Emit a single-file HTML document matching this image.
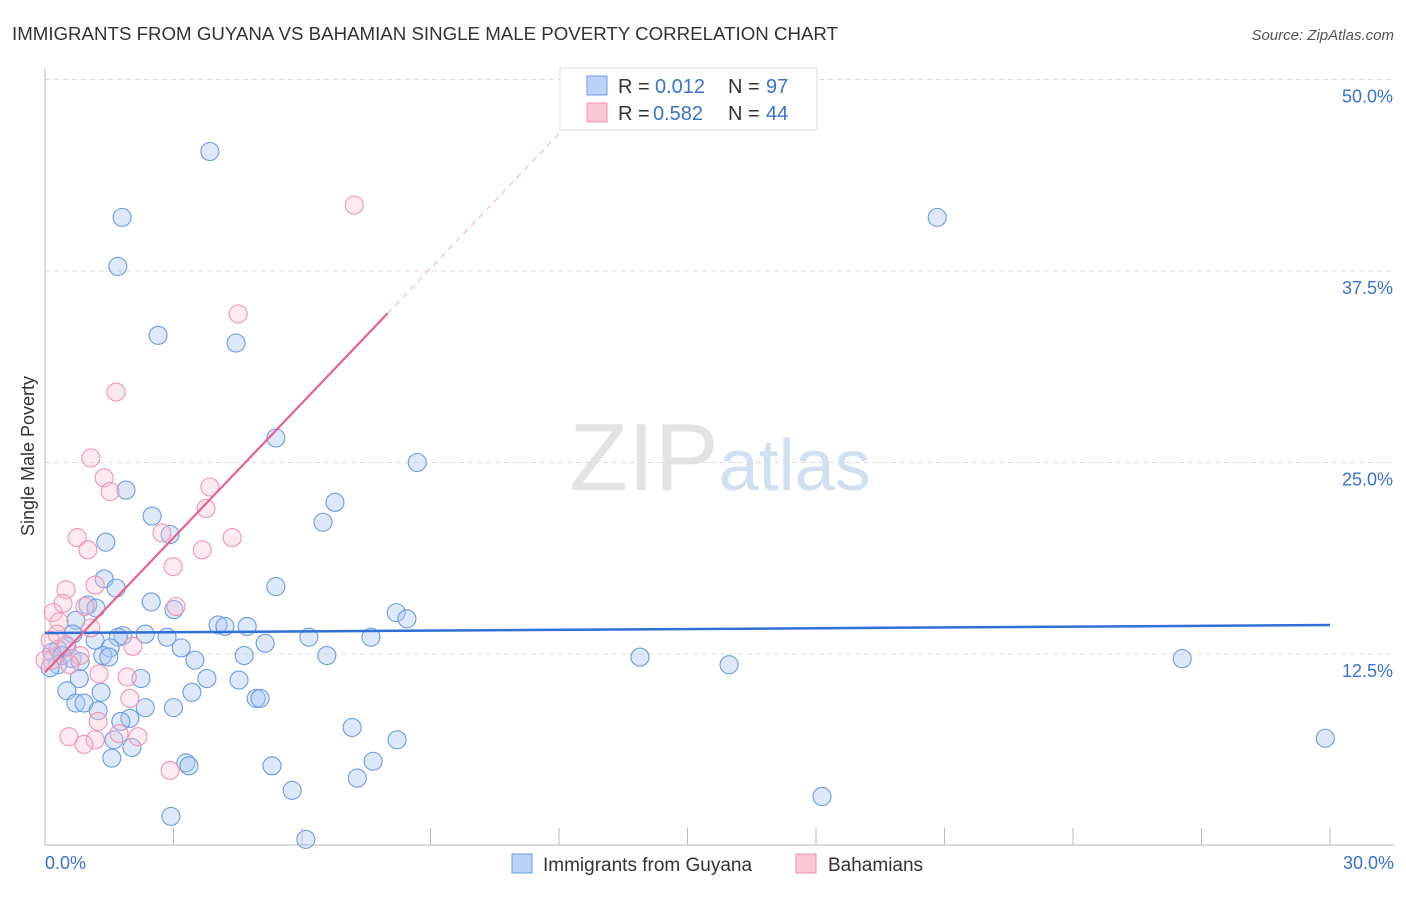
<!DOCTYPE html>
<html><head><meta charset="utf-8"><style>
body{margin:0;background:#fff;font-family:"Liberation Sans",sans-serif}
svg text{font-family:"Liberation Sans",sans-serif}
</style></head><body>
<svg id="chart" width="1406" height="892" xmlns="http://www.w3.org/2000/svg">
<text x="12" y="40" font-size="18" fill="#333" textLength="826" lengthAdjust="spacingAndGlyphs">IMMIGRANTS FROM GUYANA VS BAHAMIAN SINGLE MALE POVERTY CORRELATION CHART</text>
<text x="1394" y="40" font-size="15" fill="#555" text-anchor="end" font-style="italic">Source: ZipAtlas.com</text>
<text x="720" y="490" font-size="96" text-anchor="middle" font-family="Liberation Serif" fill="#ddd" opacity="0.8">ZIP<tspan fill="#c8d8ee" font-family="Liberation Sans" font-size="72">atlas</tspan></text>
<text transform="translate(34,456) rotate(-90)" font-size="18" fill="#333" text-anchor="middle">Single Male Poverty</text>
<g id="grid"></g><g id="axes"></g><g id="pts"></g><g id="trend"></g>
<g>
<rect x="560" y="68" width="257" height="62" fill="#fff" stroke="#ddd"/>
<rect x="587" y="76" width="20" height="19" fill="#b9d3f7" stroke="#6d9de6"/>
<rect x="587" y="103" width="20" height="19" fill="#fbc8d8" stroke="#f090ae"/>
<text x="618" y="93" font-size="20" fill="#333">R =</text>
<text x="655" y="93" font-size="20" fill="#3a72d0">0.012</text>
<text x="728" y="93" font-size="20" fill="#333">N =</text>
<text x="766" y="93" font-size="20" fill="#3a72d0">97</text>
<text x="618" y="120" font-size="20" fill="#333">R =</text>
<text x="653" y="120" font-size="20" fill="#3a72d0">0.582</text>
<text x="728" y="120" font-size="20" fill="#333">N =</text>
<text x="766" y="120" font-size="20" fill="#3a72d0">44</text>
</g>
<g>
<rect x="512" y="854" width="20" height="19" fill="#b9d3f7" stroke="#6d9de6"/>
<text x="543" y="871" font-size="19" fill="#333">Immigrants from Guyana</text>
<rect x="796" y="854" width="20" height="19" fill="#fbc8d8" stroke="#f090ae"/>
<text x="828" y="871" font-size="19" fill="#333">Bahamians</text>
</g>
</svg>
<script>
const yTicks=[12.5,25,37.5,50];
const yTickLabels=["12.5%","25.0%","37.5%","50.0%"];
const xTicks=[0,3,6,9,12,15,18,21,24,27,30];
const blueX=[3.85,1.80,20.83,1.70,2.64,4.46,5.39,8.69,1.89,6.77,2.50,6.49,2.92,1.42,1.38,5.39,1.66,2.48,1.00,1.19,3.01,8.20,8.45,0.72,4.04,4.20,4.72,0.65,1.82,2.34,1.71,2.85,1.17,6.16,7.61,5.14,0.51,1.52,3.18,0.30,0.16,0.40,0.63,1.35,4.65,6.58,1.49,13.89,26.55,3.50,0.82,0.30,0.12,15.97,0.80,2.24,3.78,4.53,0.51,1.31,3.43,4.93,5.02,0.72,0.91,2.34,3.00,1.24,1.98,1.77,7.17,1.61,8.22,29.89,2.03,1.56,3.29,3.36,7.66,5.30,7.29,5.77,18.14,2.94,6.09];
const blueY=[45.3,41.0,41.0,37.8,33.3,32.8,26.6,25.0,23.2,22.4,21.5,21.1,20.3,19.8,17.4,16.9,16.8,15.9,15.7,15.5,15.4,15.2,14.8,14.7,14.4,14.3,14.3,13.8,13.7,13.8,13.6,13.6,13.4,13.6,13.6,13.2,13.0,12.9,12.9,12.8,12.6,12.4,12.2,12.4,12.4,12.4,12.3,12.3,12.2,12.1,12.0,11.8,11.6,11.8,10.9,10.9,10.9,10.8,10.1,10.0,10.0,9.6,9.6,9.3,9.3,9.0,9.0,8.8,8.3,8.1,7.7,6.9,6.9,7.0,6.4,5.7,5.4,5.2,5.5,5.2,4.4,3.6,3.2,1.9,0.4];
const pinkX=[7.22,4.51,1.66,1.07,1.38,3.85,1.52,3.76,2.73,4.37,0.75,1.00,3.67,2.99,0.49,1.17,0.42,0.93,0.19,3.06,0.33,1.07,0.28,0.12,0.49,2.05,0.82,0.16,0.58,1.26,1.92,1.98,1.24,1.73,0.56,1.17,2.17,0.91,2.92,0.00];
const pinkY=[41.8,34.7,29.6,25.3,24.0,23.4,23.1,22.0,20.4,20.1,20.1,19.3,19.3,18.2,16.7,17.0,15.8,15.6,15.2,15.6,14.6,14.2,13.8,13.4,13.1,13.0,12.4,12.1,11.8,11.2,11.0,9.6,8.1,7.3,7.1,6.9,7.1,6.6,4.9,12.1];
const blueTrend=[13.87,0.0173];
const pinkTrend=[11.3,2.93];
const X=v=>45+v/30*1285, Y=v=>845.5-v/12.5*191.5;
const NS="http://www.w3.org/2000/svg";
function mk(t,a,p){const e=document.createElementNS(NS,t);for(const k in a)e.setAttribute(k,a[k]);p.appendChild(e);return e;}
const grid=document.getElementById('grid'),axes=document.getElementById('axes'),pts=document.getElementById('pts'),tr=document.getElementById('trend');
yTicks.forEach((t,i)=>{
 const l=mk('line',{x1:45,x2:1394,y1:Y(t),y2:Y(t),stroke:'#ddd','stroke-dasharray':'5,4'},grid);
 
 
 const tx=mk('text',{x:1393,y:Y(t)+23,'font-size':18,fill:'#3a72d0','text-anchor':'end'},axes);
 tx.textContent=yTickLabels[i];
 
 
});
const ax=mk('line',{x1:45,x2:45,y1:68,y2:845,stroke:'#bbb'},axes);


const bx=mk('line',{x1:45,x2:1394,y1:845,y2:845,stroke:'#bbb'},axes);


xTicks.forEach(t=>{
 const l=mk('line',{x1:X(t),x2:X(t),y1:828,y2:845,stroke:'#bbb'},axes);
 
 
});
[[0,'0.0%','start',45],[30,'30.0%','end',1394]].forEach(d=>{
 const tx=mk('text',{x:d[3],y:869,'font-size':18,fill:'#3a72d0','text-anchor':d[2]},axes);
 tx.textContent=d[1];
 
 
});
blueX.forEach((v,i)=>{
 const c=mk('circle',{cx:X(v),cy:Y(blueY[i]),r:9,fill:'rgba(170,200,240,0.4)',stroke:'#6a9be3','stroke-width':1.1},pts);
 
 
});
pinkX.forEach((v,i)=>{
 const c=mk('circle',{cx:X(v),cy:Y(pinkY[i]),r:9,fill:'rgba(250,195,212,0.35)',stroke:'#f095b2','stroke-width':1.1},pts);
 
 
});
const bl=mk('line',{x1:X(0),y1:Y(blueTrend[0]),x2:X(30),y2:Y(blueTrend[0]+blueTrend[1]*30),stroke:'#2f6fd6','stroke-width':2.5},tr);


const pl=mk('line',{x1:X(0),y1:Y(pinkTrend[0]),x2:X(8),y2:Y(pinkTrend[0]+pinkTrend[1]*8),stroke:'#e8628e','stroke-width':2.2},tr);


const pd=mk('line',{x1:X(8),y1:Y(pinkTrend[0]+pinkTrend[1]*8),x2:X(12.3),y2:Y(pinkTrend[0]+pinkTrend[1]*12.3),stroke:'#f0b0c4','stroke-width':1,'stroke-dasharray':'6,5'},tr);


</script>
</body></html>
